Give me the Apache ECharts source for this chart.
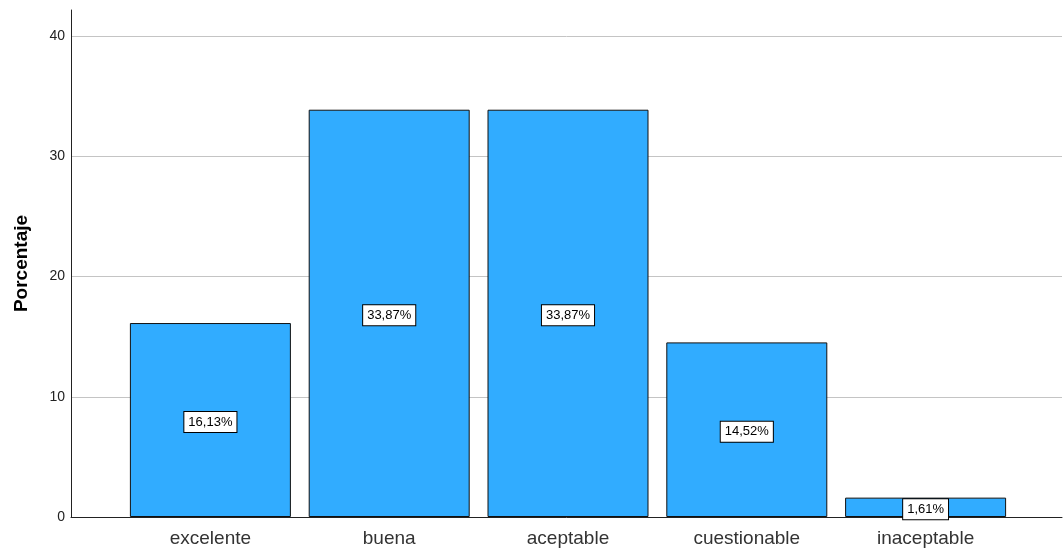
<!DOCTYPE html>
<html>
<head>
<meta charset="utf-8">
<script src="https://cdn.jsdelivr.net/npm/echarts@6/dist/echarts.min.js"></script>
<style>
  html, body { margin: 0; padding: 0; background: #fff; }
  #chart { width: 1063px; height: 549px; }
</style>
</head>
<body>
<div id="chart"></div>
<script>
// Distribución porcentual de la valoración
const categories = ['excelente', 'buena', 'aceptable', 'cuestionable', 'inaceptable'];
const percentages = [16.13, 33.87, 33.87, 14.52, 1.61];
const yTicks = [0, 10, 20, 30, 40];

const FONT = '"Liberation Sans", Arial, sans-serif';
const BAR_COLOR = '#31acff';

const chart = echarts.init(document.getElementById('chart'), null, { renderer: 'canvas' });

const option = {
  backgroundColor: '#ffffff',
  animation: false,
  grid: [
    // 0: gridlines and tick labels
    { left: 71, right: 1, top: 36, bottom: 32 },
    // 1: axis lines (y axis runs a bit above the last tick)
    { left: 71, right: 1, top: 10, bottom: 32 },
    // 2: bars
    { left: 121, right: 48, top: 36, bottom: 32 }
  ],
  xAxis: [
    { gridIndex: 0, type: 'value', min: 0, max: 1, show: false },
    {
      gridIndex: 1, type: 'value', min: 0, max: 1,
      axisLine: { show: true, lineStyle: { color: '#222', width: 1 } },
      axisTick: { show: false }, axisLabel: { show: false }, splitLine: { show: false }
    },
    {
      gridIndex: 2, type: 'category', data: categories,
      axisLine: { show: false }, axisTick: { show: false },
      axisLabel: { color: '#333', fontFamily: FONT, fontSize: 19, margin: 12 }
    }
  ],
  yAxis: [
    {
      gridIndex: 0, type: 'value', min: yTicks[0], max: yTicks[yTicks.length - 1], interval: 10,
      axisLine: { show: false }, axisTick: { show: false },
      axisLabel: { color: '#222', fontFamily: FONT, fontSize: 14, margin: 6 },
      splitLine: { show: true, lineStyle: { color: '#c4c4c4', width: 1 } }
    },
    {
      gridIndex: 1, type: 'value', min: 0, max: 1,
      axisLine: { show: true, lineStyle: { color: '#222', width: 1 } },
      axisTick: { show: false }, axisLabel: { show: false }, splitLine: { show: false },
      name: 'Porcentaje', nameLocation: 'middle', nameGap: 40, nameRotate: 90,
      nameTextStyle: { color: '#000', fontFamily: FONT, fontSize: 19, fontWeight: 'bold' }
    },
    {
      gridIndex: 2, type: 'value', min: yTicks[0], max: yTicks[yTicks.length - 1],
      show: false
    }
  ],
  series: [
    {
      type: 'bar',
      xAxisIndex: 2, yAxisIndex: 2,
      data: percentages,
      barWidth: 161,
      itemStyle: { color: BAR_COLOR, borderColor: '#111', borderWidth: 1 },
      label: {
        show: true,
        position: 'inside',
        offset: [0, 2],
        formatter: p => p.value.toFixed(2).replace('.', ',') + '%',
        color: '#000',
        fontFamily: FONT,
        fontSize: 13,
        backgroundColor: '#fff',
        borderColor: '#000',
        borderWidth: 1,
        padding: [4, 4, 3, 4]
      }
    }
  ]
};

chart.setOption(option);
</script>
</body>
</html>
